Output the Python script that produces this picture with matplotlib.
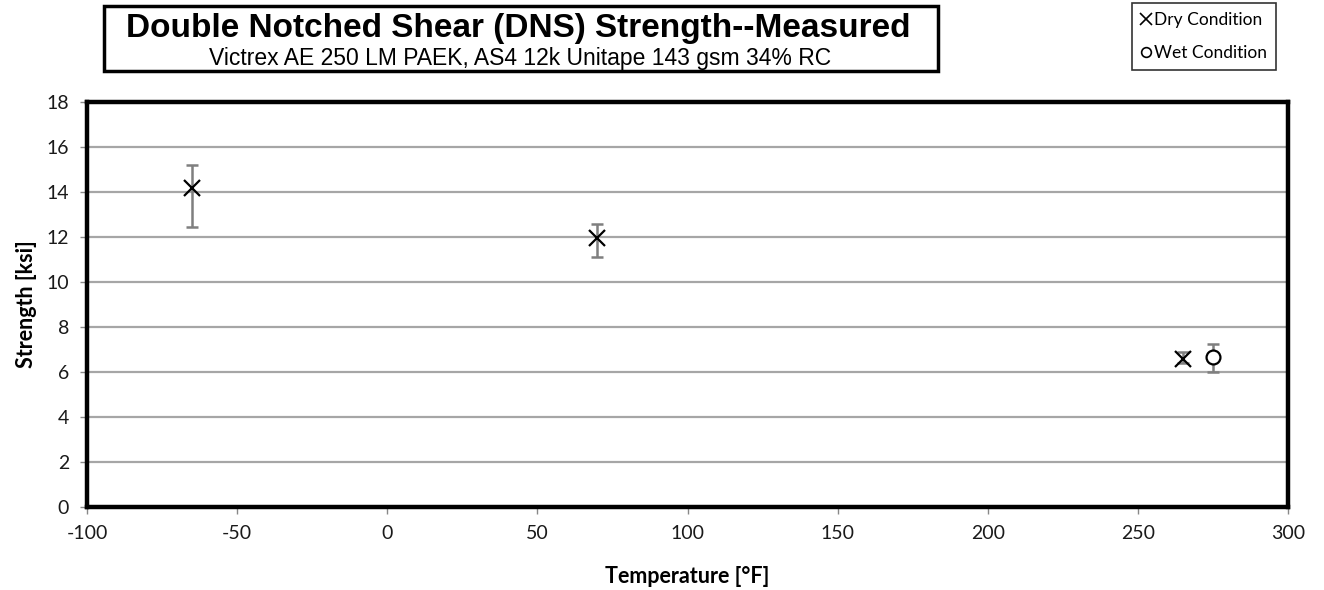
import matplotlib.pyplot as plt
from matplotlib.lines import Line2D

# data
dry_temp = [-65, 70, 265]
dry_strength = [14.2, 11.95, 6.6]
dry_err_low = [1.75, 0.85, 0.2]
dry_err_high = [1.0, 0.65, 0.3]

wet_temp = [275]
wet_strength = [6.67]
wet_err_low = [0.65]
wet_err_high = [0.57]

xticks = [-100, -50, 0, 50, 100, 150, 200, 250, 300]
yticks = [0, 2, 4, 6, 8, 10, 12, 14, 16, 18]

plt.rcParams['font.family'] = ['Lato', 'DejaVu Sans']
plt.rcParams['axes.unicode_minus'] = False

fig = plt.figure(figsize=(13.24, 5.9), dpi=100)
ax = fig.add_axes([87 / 1324, 1 - 507 / 590, (1288 - 87) / 1324, (507 - 102) / 590])

ax.errorbar(dry_temp, dry_strength, yerr=[dry_err_low, dry_err_high], fmt='none',
            ecolor='#7f7f7f', elinewidth=1.8, capsize=4, capthick=1.8, zorder=3)
ax.errorbar(wet_temp, wet_strength, yerr=[wet_err_low, wet_err_high], fmt='none',
            ecolor='#7f7f7f', elinewidth=1.8, capsize=4, capthick=1.8, zorder=3)
ax.plot(dry_temp, dry_strength, 'x', color='black', ms=12, mew=1.6, zorder=4)
ax.plot(wet_temp, wet_strength, 'o', mfc='white', mec='black', ms=10, mew=1.6, zorder=4)

ax.set_xlim(-100, 300)
ax.set_ylim(0, 18)
ax.set_xticks(xticks)
ax.set_yticks(yticks)
ax.tick_params(labelsize=14, length=5, color='#888888', width=1, pad=8,
               labelcolor='#1a1a1a')
ax.grid(axis='y', color='#a6a6a6', lw=1.6)
ax.set_axisbelow(True)
for s in ax.spines.values():
    s.set_linewidth(3.2)
    s.set_color('black')

ax.set_xlabel('Temperature [°F]', fontsize=15.5, fontweight='bold', labelpad=17)
ax.set_ylabel('Strength [ksi]', fontsize=15.5, fontweight='bold', labelpad=7)

# title box
fig.patches.append(plt.Rectangle((104 / 1324, 1 - 71 / 590), (938 - 104) / 1324, 65 / 590,
                                 transform=fig.transFigure, fill=False, ec='black', lw=2.5))
fig.text(518 / 1324, 1 - 28 / 590, 'Double Notched Shear (DNS) Strength--Measured',
         ha='center', va='center', fontsize=24, fontweight='bold',
         family=['Liberation Sans', 'DejaVu Sans'])
fig.text(520 / 1324, 1 - 58.5 / 590, 'Victrex AE 250 LM PAEK, AS4 12k Unitape 143 gsm 34% RC',
         ha='center', va='center', fontsize=16.5,
         family=['Liberation Sans', 'DejaVu Sans'])

# legend
handles = [Line2D([], [], ls='none', marker='x', color='black', ms=8, mew=1.2),
           Line2D([], [], ls='none', marker='o', mfc='white', mec='black', ms=7, mew=1.2)]
leg = fig.legend(handles, ['Dry Condition', 'Wet Condition'], loc='upper right',
                 bbox_to_anchor=(1276 / 1324, 1 - 3 / 590), fontsize=12.5, frameon=True,
                 fancybox=False, edgecolor='black', handlelength=0.6, handletextpad=0.2,
                 borderpad=0.5, labelspacing=1.0, borderaxespad=0)
leg.get_frame().set_linewidth(1.2)

fig.savefig('out.png', dpi=100)
